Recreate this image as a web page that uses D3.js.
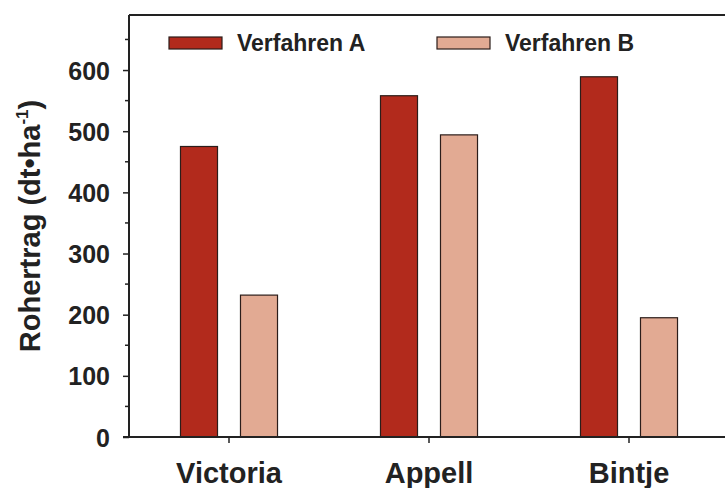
<!DOCTYPE html>
<html>
<head>
<meta charset="utf-8">
<script src="https://cdn.jsdelivr.net/npm/d3@7"></script>
<style>
  html, body { margin: 0; padding: 0; background: #fff; }
  svg { display: block; font-family: "Liberation Sans", Arial, sans-serif; font-weight: bold; }
</style>
</head>
<body>
<svg id="chart" width="725" height="488"></svg>
<script>
// Potato varieties and gross yield (dt/ha) for the two methods
const varieties = ["Victoria", "Appell", "Bintje"];
const methods = ["Verfahren A", "Verfahren B"];
const verfahrenA = [475, 558, 589];
const verfahrenB = [232, 494, 195];
const majorTicks = [0, 100, 200, 300, 400, 500, 600];
const minorTicks = [50, 150, 250, 350, 450, 550, 650];

const colors = { "Verfahren A": "#B22A1C", "Verfahren B": "#E2AA93" };
const ink = "#222";

const svg = d3.select("#chart");
const plotLeft = 129, plotRight = 729, plotTop = 15, plotBottom = 437;

const x = d3.scaleBand().domain(varieties).range([plotLeft, plotRight]).padding(0);
const xInner = d3.scaleBand().domain(methods).range([0, x.bandwidth()])
  .paddingInner(0.383).paddingOuter(0.858);
const y = d3.scaleLinear().domain([0, 690]).range([plotBottom, plotTop]);

const rows = varieties.map((v, i) => ({
  variety: v,
  values: [
    { method: methods[0], value: verfahrenA[i] },
    { method: methods[1], value: verfahrenB[i] }
  ]
}));

// Bars
const groups = svg.append("g").selectAll("g").data(rows).join("g")
  .attr("transform", d => `translate(${x(d.variety)},0)`);
groups.selectAll("rect").data(d => d.values).join("rect")
  .attr("x", d => xInner(d.method))
  .attr("y", d => y(d.value))
  .attr("width", xInner.bandwidth())
  .attr("height", d => y(0) - y(d.value))
  .attr("fill", d => colors[d.method])
  .attr("stroke", "#2b1d1a")
  .attr("stroke-width", 1.2);

// Frame line on top
svg.append("line")
  .attr("x1", plotLeft).attr("x2", plotRight).attr("y1", plotTop).attr("y2", plotTop)
  .attr("stroke", ink).attr("stroke-width", 2);

// Y axis
const yAxis = svg.append("g").attr("transform", `translate(${plotLeft},0)`)
  .call(d3.axisLeft(y).tickValues(majorTicks).tickSize(6).tickPadding(13).tickSizeOuter(0));
yAxis.select(".domain").attr("stroke", ink).attr("stroke-width", 2)
  .attr("d", `M0,${plotTop}V${plotBottom}`);
yAxis.selectAll(".tick line").attr("stroke", ink).attr("stroke-width", 1.5);
yAxis.selectAll(".tick text").attr("fill", ink)
  .style("font-size", "25px").style("font-weight", "bold")
  .style("font-family", "'Liberation Sans', Arial, sans-serif").attr("dy", "0.36em");
svg.append("g").selectAll("line").data(minorTicks).join("line")
  .attr("x1", plotLeft - 4).attr("x2", plotLeft)
  .attr("y1", d => y(d)).attr("y2", d => y(d))
  .attr("stroke", ink).attr("stroke-width", 1.5);

// X axis
const xAxis = svg.append("g").attr("transform", `translate(0,${plotBottom})`)
  .call(d3.axisBottom(x).tickSize(6).tickPadding(19).tickSizeOuter(0));
xAxis.select(".domain").attr("stroke", ink).attr("stroke-width", 2)
  .attr("d", `M${plotLeft - 6},0H${plotRight}`);
xAxis.selectAll(".tick line").attr("stroke", ink).attr("stroke-width", 1.5);
xAxis.selectAll(".tick text").attr("fill", ink)
  .style("font-size", "29px").style("font-weight", "bold")
  .style("font-family", "'Liberation Sans', Arial, sans-serif");

// Y axis title
const title = svg.append("text")
  .attr("transform", `translate(40,${(95 + 357) / 2}) rotate(-90)`)
  .attr("text-anchor", "middle")
  .attr("fill", ink)
  .style("font-size", "29px");
title.append("tspan").text("Rohertrag (dt\u2022ha");
title.append("tspan").text("-1").attr("dy", "-12").style("font-size", "17px");
title.append("tspan").text(")").attr("dy", "12");

// Legend
const legend = svg.append("g").selectAll("g").data(methods).join("g")
  .attr("transform", (d, i) => `translate(${[169, 437][i]},37)`);
legend.append("rect")
  .attr("width", 53).attr("height", 12)
  .attr("fill", d => colors[d])
  .attr("stroke", "#2b1d1a").attr("stroke-width", 1.2);
legend.append("text")
  .attr("x", 68).attr("y", 6).attr("dy", "0.36em")
  .attr("fill", ink).style("font-size", "23px")
  .text(d => d);
</script>
</body>
</html>
